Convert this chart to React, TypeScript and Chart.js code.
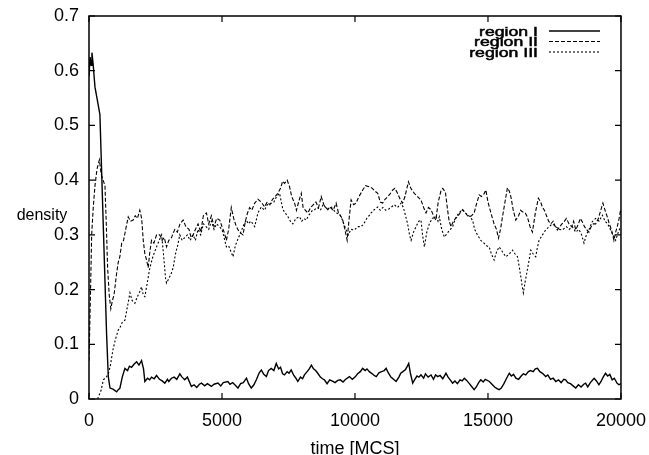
import React, { useEffect, useRef } from "react";
import { Chart, registerables } from "chart.js";

Chart.register(...registerables);

const xTickValues = [0, 5000, 10000, 15000, 20000];
const yTickValues = [0, 0.1, 0.2, 0.3, 0.4, 0.5, 0.6, 0.7];
const seriesLabels = ["region I", "region II", "region III"];
const xTitle = "time [MCS]";
const yTitle = "density";

const regionI: [number, number][] = [
  [0, 0.59], [40, 0.625], [80, 0.61], [110, 0.633], [150, 0.615], [225, 0.57], [300, 0.55], [410, 0.52],
  [560, 0.28], [660, 0.12], [725, 0.041], [790, 0.02], [900, 0.018], [1040, 0.013], [1100, 0.017], [1160, 0.0195],
  [1250, 0.04], [1350, 0.056], [1450, 0.052], [1520, 0.06], [1600, 0.058], [1700, 0.064], [1790, 0.068], [1880, 0.062],
  [1975, 0.07], [2050, 0.055], [2100, 0.032], [2200, 0.038], [2280, 0.035], [2350, 0.04], [2450, 0.037], [2540, 0.043],
  [2650, 0.036], [2750, 0.033], [2850, 0.029], [2950, 0.036], [3000, 0.032], [3100, 0.038], [3200, 0.04], [3300, 0.036],
  [3415, 0.046], [3500, 0.04], [3600, 0.035], [3700, 0.04], [3850, 0.023], [3950, 0.026], [4050, 0.021], [4150, 0.027],
  [4230, 0.029], [4350, 0.024], [4450, 0.028], [4600, 0.023], [4700, 0.027], [4850, 0.029], [4950, 0.024], [5050, 0.03],
  [5220, 0.032], [5300, 0.027], [5400, 0.03], [5500, 0.025], [5600, 0.02], [5700, 0.028], [5800, 0.03], [5920, 0.038],
  [6000, 0.028], [6100, 0.02], [6200, 0.026], [6300, 0.036], [6400, 0.048], [6480, 0.053], [6570, 0.045], [6670, 0.041],
  [6750, 0.052], [6850, 0.056], [6950, 0.052], [7040, 0.065], [7130, 0.055], [7200, 0.058], [7280, 0.046], [7350, 0.044],
  [7450, 0.05], [7520, 0.047], [7600, 0.053], [7700, 0.043], [7780, 0.038], [7850, 0.032], [7950, 0.04], [8030, 0.037],
  [8100, 0.044], [8200, 0.05], [8280, 0.055], [8360, 0.062], [8440, 0.055], [8520, 0.052], [8600, 0.047], [8700, 0.04],
  [8780, 0.037], [8850, 0.035], [8950, 0.028], [9050, 0.035], [9170, 0.032], [9250, 0.03], [9350, 0.034], [9450, 0.035],
  [9550, 0.031], [9650, 0.036], [9790, 0.041], [9900, 0.036], [10000, 0.04], [10100, 0.046], [10200, 0.05], [10290, 0.056],
  [10380, 0.052], [10450, 0.055], [10540, 0.05], [10650, 0.046], [10720, 0.043], [10800, 0.041], [10900, 0.048], [11000, 0.05],
  [11100, 0.052], [11170, 0.056], [11250, 0.048], [11350, 0.04], [11450, 0.036], [11545, 0.032], [11650, 0.04], [11720, 0.047],
  [11800, 0.05], [11900, 0.054], [11970, 0.06], [12020, 0.065], [12080, 0.048], [12170, 0.029], [12250, 0.036], [12330, 0.042],
  [12400, 0.04], [12480, 0.044], [12580, 0.038], [12650, 0.046], [12750, 0.04], [12860, 0.044], [12950, 0.036], [13030, 0.044],
  [13110, 0.041], [13200, 0.043], [13300, 0.037], [13420, 0.047], [13500, 0.04], [13580, 0.035], [13670, 0.029], [13760, 0.033],
  [13850, 0.028], [13950, 0.035], [14030, 0.033], [14110, 0.038], [14200, 0.034], [14300, 0.028], [14400, 0.022], [14480, 0.017],
  [14560, 0.022], [14650, 0.03], [14730, 0.035], [14820, 0.031], [14900, 0.036], [15050, 0.032], [15150, 0.027], [15250, 0.022],
  [15340, 0.019], [15420, 0.017], [15500, 0.02], [15600, 0.028], [15700, 0.038], [15800, 0.047], [15880, 0.042], [15960, 0.045],
  [16050, 0.038], [16150, 0.036], [16250, 0.042], [16330, 0.046], [16420, 0.044], [16520, 0.05], [16600, 0.052], [16700, 0.05],
  [16780, 0.055], [16860, 0.056], [16950, 0.05], [17050, 0.047], [17170, 0.041], [17250, 0.044], [17350, 0.036], [17450, 0.038],
  [17550, 0.032], [17650, 0.035], [17750, 0.03], [17850, 0.036], [17920, 0.035], [18000, 0.03], [18100, 0.028], [18200, 0.024],
  [18300, 0.02], [18400, 0.026], [18500, 0.022], [18600, 0.027], [18670, 0.029], [18750, 0.022], [18850, 0.03], [18990, 0.038],
  [19080, 0.033], [19170, 0.026], [19250, 0.032], [19330, 0.04], [19420, 0.047], [19500, 0.042], [19580, 0.045], [19670, 0.035],
  [19750, 0.038], [19850, 0.029], [19920, 0.026], [20000, 0.028],
];

const regionII: [number, number][] = [
  [0, 0.07], [50, 0.18], [100, 0.3], [160, 0.35], [225, 0.39], [300, 0.42], [390, 0.437], [460, 0.41],
  [530, 0.4], [600, 0.39], [650, 0.32], [700, 0.24], [760, 0.19], [820, 0.165], [880, 0.18], [940, 0.19],
  [1040, 0.23], [1100, 0.25], [1160, 0.26], [1230, 0.285], [1300, 0.29], [1380, 0.31], [1475, 0.333], [1560, 0.325],
  [1660, 0.327], [1740, 0.335], [1820, 0.33], [1910, 0.345], [1980, 0.33], [2040, 0.29], [2100, 0.265], [2160, 0.255],
  [2225, 0.24], [2290, 0.27], [2350, 0.29], [2440, 0.285], [2540, 0.3], [2660, 0.3], [2750, 0.29], [2830, 0.295],
  [2915, 0.278], [3000, 0.29], [3100, 0.295], [3225, 0.31], [3320, 0.305], [3420, 0.32], [3540, 0.327], [3640, 0.315],
  [3760, 0.31], [3840, 0.295], [3915, 0.3], [4000, 0.31], [4100, 0.32], [4200, 0.305], [4300, 0.335], [4415, 0.34],
  [4500, 0.32], [4600, 0.335], [4700, 0.315], [4800, 0.33], [4915, 0.327], [5000, 0.315], [5080, 0.305], [5165, 0.29],
  [5250, 0.31], [5350, 0.35], [5440, 0.33], [5540, 0.315], [5650, 0.305], [5790, 0.3], [5880, 0.325], [5960, 0.34],
  [6040, 0.35], [6120, 0.345], [6230, 0.358], [6350, 0.365], [6480, 0.36], [6600, 0.351], [6700, 0.36], [6800, 0.355],
  [6900, 0.365], [7000, 0.37], [7100, 0.376], [7200, 0.385], [7280, 0.398], [7350, 0.394], [7450, 0.4], [7540, 0.388],
  [7620, 0.37], [7730, 0.358], [7800, 0.345], [7880, 0.36], [7980, 0.376], [8050, 0.35], [8130, 0.345], [8230, 0.34],
  [8330, 0.35], [8430, 0.355], [8530, 0.36], [8630, 0.35], [8730, 0.37], [8830, 0.355], [8900, 0.35], [8980, 0.346],
  [9080, 0.35], [9180, 0.345], [9290, 0.358], [9380, 0.34], [9460, 0.335], [9540, 0.327], [9620, 0.31], [9705, 0.29],
  [9780, 0.33], [9855, 0.364], [9950, 0.355], [10040, 0.358], [10150, 0.37], [10290, 0.382], [10400, 0.39], [10540, 0.388],
  [10650, 0.385], [10750, 0.38], [10855, 0.376], [10950, 0.36], [11040, 0.358], [11130, 0.365], [11230, 0.37], [11320, 0.375],
  [11420, 0.382], [11500, 0.385], [11600, 0.376], [11700, 0.365], [11790, 0.358], [11880, 0.37], [11950, 0.385], [12010, 0.397],
  [12100, 0.385], [12230, 0.376], [12350, 0.37], [12480, 0.364], [12580, 0.35], [12670, 0.34], [12760, 0.35], [12860, 0.346],
  [12950, 0.335], [13040, 0.327], [13130, 0.36], [13230, 0.38], [13300, 0.385], [13400, 0.378], [13480, 0.346], [13540, 0.325],
  [13610, 0.315], [13700, 0.325], [13780, 0.33], [13855, 0.333], [13950, 0.34], [14045, 0.346], [14150, 0.34], [14230, 0.335],
  [14295, 0.333], [14380, 0.335], [14480, 0.34], [14560, 0.355], [14670, 0.373], [14750, 0.37], [14850, 0.375], [14920, 0.382],
  [15000, 0.36], [15110, 0.34], [15230, 0.32], [15320, 0.31], [15395, 0.294], [15470, 0.31], [15545, 0.333], [15640, 0.36],
  [15730, 0.386], [15800, 0.38], [15860, 0.37], [15950, 0.345], [16045, 0.327], [16150, 0.335], [16230, 0.345], [16295, 0.342],
  [16400, 0.34], [16480, 0.333], [16580, 0.315], [16670, 0.305], [16780, 0.34], [16895, 0.367], [16980, 0.36], [17050, 0.35],
  [17110, 0.346], [17200, 0.335], [17280, 0.325], [17360, 0.32], [17450, 0.325], [17530, 0.315], [17610, 0.309], [17700, 0.315],
  [17780, 0.32], [17860, 0.324], [17950, 0.33], [18045, 0.32], [18150, 0.315], [18220, 0.325], [18300, 0.309], [18400, 0.32],
  [18470, 0.33], [18545, 0.324], [18630, 0.315], [18700, 0.31], [18795, 0.305], [18880, 0.315], [18960, 0.32], [19050, 0.32],
  [19150, 0.33], [19240, 0.345], [19320, 0.358], [19400, 0.345], [19485, 0.333], [19560, 0.32], [19640, 0.31], [19735, 0.29],
  [19800, 0.305], [19860, 0.315], [19930, 0.33], [19985, 0.346], [20000, 0.34],
];

const regionIII: [number, number][] = [
  [320, 0.0], [450, 0.015], [540, 0.035], [660, 0.041], [720, 0.045], [800, 0.06], [900, 0.09], [1000, 0.11],
  [1100, 0.126], [1160, 0.13], [1250, 0.14], [1350, 0.144], [1450, 0.17], [1540, 0.194], [1620, 0.18], [1725, 0.175],
  [1800, 0.185], [1900, 0.195], [1975, 0.205], [2040, 0.19], [2100, 0.187], [2200, 0.215], [2290, 0.24], [2400, 0.26],
  [2540, 0.278], [2640, 0.29], [2730, 0.3], [2800, 0.265], [2880, 0.22], [2915, 0.212], [3000, 0.22], [3080, 0.228],
  [3165, 0.24], [3250, 0.265], [3330, 0.28], [3415, 0.3], [3500, 0.29], [3600, 0.295], [3700, 0.3], [3800, 0.29],
  [3915, 0.3], [4000, 0.29], [4100, 0.31], [4200, 0.3], [4300, 0.32], [4400, 0.315], [4500, 0.31], [4600, 0.325],
  [4700, 0.31], [4800, 0.32], [4900, 0.315], [5000, 0.31], [5080, 0.295], [5165, 0.278], [5250, 0.28], [5330, 0.27],
  [5415, 0.26], [5500, 0.28], [5580, 0.29], [5665, 0.3], [5750, 0.31], [5830, 0.32], [5915, 0.327], [6000, 0.32],
  [6080, 0.325], [6165, 0.32], [6230, 0.315], [6350, 0.34], [6480, 0.351], [6600, 0.345], [6700, 0.355], [6855, 0.358],
  [6950, 0.36], [7050, 0.37], [7165, 0.376], [7230, 0.36], [7290, 0.346], [7380, 0.34], [7480, 0.333], [7570, 0.325],
  [7665, 0.32], [7780, 0.33], [7915, 0.333], [8000, 0.325], [8080, 0.33], [8165, 0.327], [8250, 0.335], [8330, 0.34],
  [8400, 0.345], [8480, 0.346], [8580, 0.35], [8700, 0.345], [8800, 0.355], [8900, 0.35], [9000, 0.348], [9105, 0.351],
  [9200, 0.345], [9300, 0.34], [9400, 0.338], [9480, 0.333], [9580, 0.32], [9670, 0.309], [9750, 0.3], [9850, 0.31],
  [9980, 0.309], [10100, 0.315], [10230, 0.315], [10330, 0.32], [10440, 0.33], [10530, 0.335], [10605, 0.34], [10700, 0.345],
  [10855, 0.351], [10950, 0.345], [11050, 0.35], [11150, 0.345], [11230, 0.346], [11350, 0.35], [11480, 0.355], [11600, 0.35],
  [11730, 0.358], [11820, 0.35], [11900, 0.335], [11980, 0.32], [12050, 0.3], [12110, 0.29], [12200, 0.305], [12295, 0.315],
  [12400, 0.325], [12480, 0.327], [12540, 0.3], [12610, 0.278], [12700, 0.305], [12795, 0.32], [12900, 0.33], [13045, 0.333],
  [13120, 0.325], [13170, 0.333], [13260, 0.31], [13360, 0.296], [13500, 0.305], [13670, 0.315], [13780, 0.33], [13900, 0.34],
  [14045, 0.346], [14150, 0.34], [14280, 0.335], [14420, 0.327], [14500, 0.31], [14600, 0.3], [14730, 0.29], [14850, 0.285],
  [14950, 0.28], [15045, 0.278], [15130, 0.265], [15230, 0.254], [15330, 0.27], [15420, 0.278], [15530, 0.27], [15670, 0.26],
  [15800, 0.265], [15920, 0.272], [16020, 0.265], [16110, 0.26], [16180, 0.24], [16235, 0.223], [16290, 0.205], [16330, 0.194],
  [16400, 0.215], [16480, 0.236], [16550, 0.255], [16610, 0.272], [16700, 0.265], [16795, 0.26], [16850, 0.275], [16920, 0.29],
  [17050, 0.3], [17170, 0.309], [17300, 0.315], [17420, 0.32], [17550, 0.315], [17680, 0.31], [17800, 0.309], [17950, 0.315],
  [18050, 0.31], [18170, 0.315], [18300, 0.305], [18420, 0.31], [18520, 0.3], [18610, 0.285], [18700, 0.3], [18800, 0.31],
  [18920, 0.324], [19050, 0.33], [19180, 0.325], [19300, 0.336], [19400, 0.325], [19500, 0.32], [19610, 0.309], [19700, 0.3],
  [19800, 0.29], [19900, 0.305], [19985, 0.315],
];

const FONT = "'Liberation Sans', Arial, Helvetica, sans-serif";
const dashes: number[][] = [[], [4, 2], [2, 2]];
const widths = [1.4, 1.1, 1.1];

const framePlugin = {
  id: "gnuplotFrame",
  afterDraw(chart: any) {
    const { ctx, chartArea } = chart;
    const { left, right, top, bottom } = chartArea;
    const xs = chart.scales.x;
    const ys = chart.scales.y;
    ctx.save();
    ctx.strokeStyle = "#000";
    ctx.lineWidth = 1.5;
    ctx.setLineDash([]);
    ctx.strokeRect(left, top, right - left, bottom - top);
    ctx.lineWidth = 1.2;
    const tl = 6;
    ctx.beginPath();
    xTickValues.forEach((v) => {
      const px = xs.getPixelForValue(v);
      ctx.moveTo(px, bottom);
      ctx.lineTo(px, bottom - tl);
      ctx.moveTo(px, top);
      ctx.lineTo(px, top + tl);
    });
    yTickValues.forEach((v) => {
      const py = ys.getPixelForValue(v);
      ctx.moveTo(left, py);
      ctx.lineTo(left + tl, py);
      ctx.moveTo(right, py);
      ctx.lineTo(right - tl, py);
    });
    ctx.stroke();

    // axis titles
    ctx.fillStyle = "#000";
    ctx.font = `18px ${FONT}`;
    ctx.textAlign = "center";
    ctx.textBaseline = "alphabetic";
    ctx.fillText(xTitle, (left + right) / 2, 454);
    ctx.font = `16px ${FONT}`;
    ctx.textAlign = "center";
    ctx.fillText(yTitle, 42, 220);

    // legend
    const rowY = [31, 41.5, 52];
    const textRight = 538;
    const sx = 1.36;
    chart.data.datasets.forEach((ds: any, i: number) => {
      const y = rowY[i];
      ctx.save();
      ctx.translate(textRight, y + 4.5);
      ctx.scale(sx, 1);
      ctx.font = `13px ${FONT}`;
      ctx.textAlign = "right";
      ctx.lineWidth = 0.5;
      ctx.setLineDash([]);
      ctx.fillText(ds.label, 0, 0);
      ctx.strokeText(ds.label, 0, 0);
      ctx.restore();
      ctx.beginPath();
      ctx.lineWidth = widths[i];
      ctx.setLineDash(dashes[i]);
      ctx.moveTo(549, y);
      ctx.lineTo(600, y);
      ctx.stroke();
    });
    ctx.restore();
  },
};

export default function App() {
  const canvasRef = useRef<HTMLCanvasElement | null>(null);

  useEffect(() => {
    if (!canvasRef.current) return;
    const seriesData = [regionI, regionII, regionIII];
    const chart = new Chart(canvasRef.current, {
      type: "line",
      data: {
        datasets: seriesData.map((s, i) => ({
          label: seriesLabels[i],
          data: s.map(([x, y]) => ({ x, y })),
          borderColor: "#000",
          borderWidth: widths[i],
          borderDash: dashes[i],
          pointRadius: 0,
          fill: false,
          tension: 0,
        })),
      },
      options: {
        animation: false,
        responsive: false,
        maintainAspectRatio: false,
        layout: { padding: { left: 0, top: 16, right: 27, bottom: 0 } },
        plugins: { legend: { display: false }, tooltip: { enabled: false }, title: { display: false } },
        scales: {
          x: {
            type: "linear",
            min: 0,
            max: 20000,
            grid: { display: false },
            border: { display: false },
            afterFit: (scale: any) => {
              scale.height = 56;
            },
            afterBuildTicks: (scale: any) => {
              scale.ticks = xTickValues.map((v) => ({ value: v }));
            },
            ticks: {
              color: "#000",
              font: { family: FONT, size: 18 },
              padding: 3,
              maxRotation: 0,
              autoSkip: false,
              callback: (v: any) => String(v),
            },
          },
          y: {
            type: "linear",
            min: 0,
            max: 0.7,
            grid: { display: false },
            border: { display: false },
            afterFit: (scale: any) => {
              scale.width = 89;
            },
            afterBuildTicks: (scale: any) => {
              scale.ticks = yTickValues.map((v) => ({ value: v }));
            },
            ticks: {
              color: "#000",
              font: { family: FONT, size: 18 },
              padding: 2,
              autoSkip: false,
              callback: (v: any) => String(Number(Number(v).toFixed(1))),
            },
          },
        },
      },
      plugins: [framePlugin],
    });
    return () => chart.destroy();
  }, []);

  return (
    <div style={{ position: "absolute", left: 0, top: 0, width: 649, height: 455, background: "#fff" }}>
      <canvas ref={canvasRef} width={649} height={455} style={{ display: "block" }} />
    </div>
  );
}
